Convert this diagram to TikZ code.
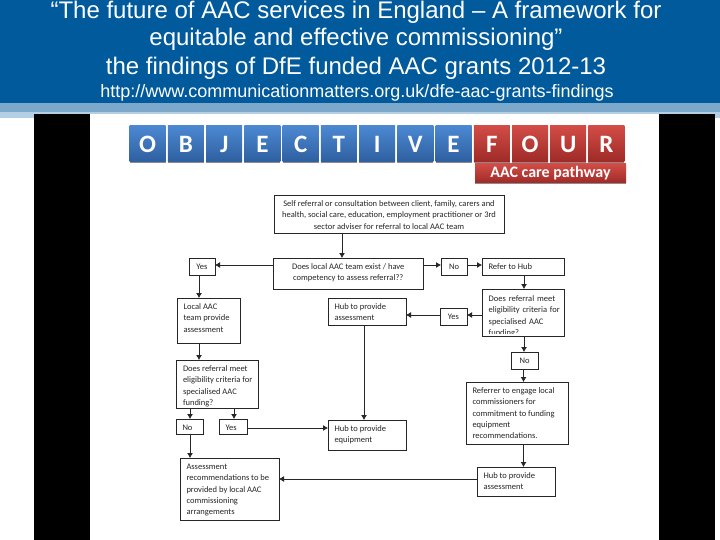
\documentclass[tikz,border=0pt]{standalone}
\usepackage{fontspec}
\setmainfont{Liberation Sans}
\newfontfamily\boxfont{Carlito}
\usetikzlibrary{arrows.meta,calc,shadows}
\definecolor{headblue}{HTML}{015A9C}
\definecolor{bandone}{HTML}{7CA8CC}
\definecolor{bandtwo}{HTML}{B4CEE3}
\definecolor{inkc}{HTML}{262626}
\definecolor{tileblueT}{HTML}{4C88D2}
\definecolor{tileblueB}{HTML}{2E5F9F}
\definecolor{tileredT}{HTML}{D24C46}
\definecolor{tileredB}{HTML}{9E2A27}
\tikzset{
  flowbox/.style={draw=inkc,line width=0.8pt,fill=white,inner xsep=6.5pt,inner ysep=3.5pt,outer sep=0pt,text=inkc,font=\boxfont\fontsize{8.5}{11.3}\selectfont},
  conn/.style={draw=inkc,line width=0.8pt,-{Latex[length=5pt,width=6pt]}},
  titletext/.style={text=white,anchor=base,inner sep=0pt},
  tile/.style={minimum width=36pt,minimum height=36pt,inner sep=0pt,outer sep=0pt,text=white,font=\boxfont\bfseries\fontsize{25}{25}\selectfont,drop shadow={shadow xshift=0pt,shadow yshift=-1.2pt,opacity=.45,fill=black}},
}
% name, x1, y1, x2, y2, alignment, text
\newcommand\flowbx[7]{%
  \pgfmathsetmacro\bw{#4-#2}\pgfmathsetmacro\bh{#5-#3}%
  \pgfmathsetmacro\cx{(#2+#4)/2}\pgfmathsetmacro\cy{(#3+#5)/2}%
  \pgfmathsetmacro\pw{#4-#2-13}\pgfmathsetmacro\ph{#5-#3-7}%
  \node[flowbox,minimum width=\bw pt,minimum height=\bh pt] (#1) at (\cx,\cy)
    {\parbox[c][\ph pt][t]{\pw pt}{#6\strut #7}};%
}
\begin{document}
\begin{tikzpicture}[x=1pt,y=-1pt]
\useasboundingbox (0,0) rectangle (720,540);
\fill[white] (0,0) rectangle (720,540);
% header
\fill[headblue] (0,0) rectangle (720,103);
\fill[bandone] (0,103) rectangle (720,112);
\fill[bandtwo] (0,112) rectangle (720,118);
% panel
\fill[black] (34,114) rectangle (715,540);
\fill[white] (90,114) rectangle (659,540);
% titles
\node[titletext,font=\fontsize{24}{24}\selectfont] (t1) at (356,19) {“The future of AAC services in England – A framework for};
\node[titletext,font=\fontsize{24}{24}\selectfont] (t2) at (356,46) {equitable and effective commissioning”};
\node[titletext,font=\fontsize{24}{24}\selectfont] (t3) at (356,75) {the findings of DfE funded AAC grants 2012-13};
\node[titletext,font=\fontsize{18}{18}\selectfont] (t4) at (357,98) {http://www.communicationmatters.org.uk/dfe-aac-grants-findings};
% tiles
\foreach \l [count=\i from 0] in {O,B,J,E,C,T,I,V,E}{
  \node[tile,top color=tileblueT,bottom color=tileblueB] (tb\i) at ({147.7+38.23*\i},144) {\l};
}
\foreach \l [count=\i from 9] in {F,O,U,R}{
  \node[tile,top color=tileredT,bottom color=tileredB] (tr\i) at ({147.7+38.23*\i},144) {\l};
}
\node[minimum width=151pt,minimum height=19pt,inner sep=0pt,outer sep=0pt,text=white,top color=tileredT,bottom color=tileredB,font=\boxfont\bfseries\fontsize{16}{16}\selectfont,drop shadow={shadow xshift=0pt,shadow yshift=-1.2pt,opacity=.45,fill=black}] (sub) at (550.5,173.5) {AAC care pathway};
% boxes
\flowbx{self}{274}{195}{504}{233}{\centering}{Self referral or consultation between client, family, carers and\\health, social care, education, employment practitioner or 3rd\\sector adviser for referral to local AAC team}
\flowbx{exist}{273.5}{258}{423}{289}{\centering}{Does local AAC team exist / have\\competency to assess referral??}
\flowbx{yesa}{189}{258}{215}{275}{\centering}{Yes}
\flowbx{noa}{441}{258}{467}{275}{\centering}{No}
\flowbx{refer}{482}{258}{564}{275}{\raggedright}{Refer to Hub}
\flowbx{local}{177}{298}{240}{343}{\raggedright}{Local AAC\\team provide\\assessment}
\flowbx{hubass}{328}{298}{406}{325}{\raggedright}{Hub to provide\\assessment}
\flowbx{yesb}{440}{308}{467}{325}{\centering}{Yes}
\flowbx{doesr}{482}{289}{564}{336}{\raggedright}{}
\begin{scope}
\clip (482,289) rectangle (564,333);
\node[anchor=north west,inner sep=0pt,text width=74pt,align=left,text=inkc,font=\boxfont\fontsize{8.5}{11.3}\selectfont] (doesrtext) at (488.5,295.5) {Does referral meet\\eligibility criteria for\\specialised AAC\\funding?};
\end{scope}
\flowbx{noc}{511}{352}{538}{369}{\centering}{No}
\flowbx{doesl}{176.5}{360}{258}{408}{\raggedright}{Does referral meet\\\mbox{eligibility criteria for}\\specialised AAC\\funding?}
\flowbx{nol}{176}{419}{203}{434}{\raggedright}{No}
\flowbx{yesl}{219}{419}{247}{434}{\raggedright}{Yes}
\flowbx{hubeq}{328}{420}{406}{450}{\raggedright}{Hub to provide\\equipment}
\flowbx{assess}{180}{458}{279}{520}{\raggedright}{Assessment\\recommendations to be\\provided by local AAC\\commissioning\\arrangements}
\flowbx{referrer}{466}{382}{568}{444}{\raggedright}{Referrer to engage local\\commissioners for\\commitment to funding\\equipment\\recommendations.}
\flowbx{hubtwo}{477}{467}{555}{496}{\raggedright}{Hub to provide\\assessment}
% connectors
\draw[conn] (self.south -| 342,0) -- (exist.north -| 342,0);
\draw[conn] (exist.west |- 0,265) -- (yesa.east |- 0,265);
\draw[conn] (exist.east |- 0,265) -- (noa.west |- 0,265);
\draw[conn] (noa.east |- 0,265) -- (refer.west |- 0,265);
\draw[conn] (yesa.south -| 199,0) -- (local.north -| 199,0);
\draw[conn] (local.south -| 199,0) -- (doesl.north -| 199,0);
\draw[conn] (refer.south -| 524,0) -- (doesr.north -| 524,0);
\draw[conn] (doesr.west |- 0,315) -- (yesb.east |- 0,315);
\draw[conn] (yesb.west |- 0,315) -- (hubass.east |- 0,315);
\draw[conn] (doesr.south -| 524,0) -- (noc.north -| 524,0);
\draw[conn] (noc.south -| 523.5,0) -- (referrer.north -| 523.5,0);
\draw[conn] (referrer.south -| 523.5,0) -- (hubtwo.north -| 523.5,0);
\draw[conn] (hubass.south -| 364,0) -- (hubeq.north -| 364,0);
\draw[conn] (doesl.south -| 190,0) -- (nol.north -| 190,0);
\draw[conn] (doesl.south -| 234,0) -- (yesl.north -| 234,0);
\draw[conn] (yesl.east |- 0,428) -- (hubeq.west |- 0,428);
\draw[conn] (nol.south -| 190,0) -- (assess.north -| 190,0);
\draw[conn] (hubtwo.west |- 0,479) -- (assess.east |- 0,479);
\end{tikzpicture}
\end{document}
